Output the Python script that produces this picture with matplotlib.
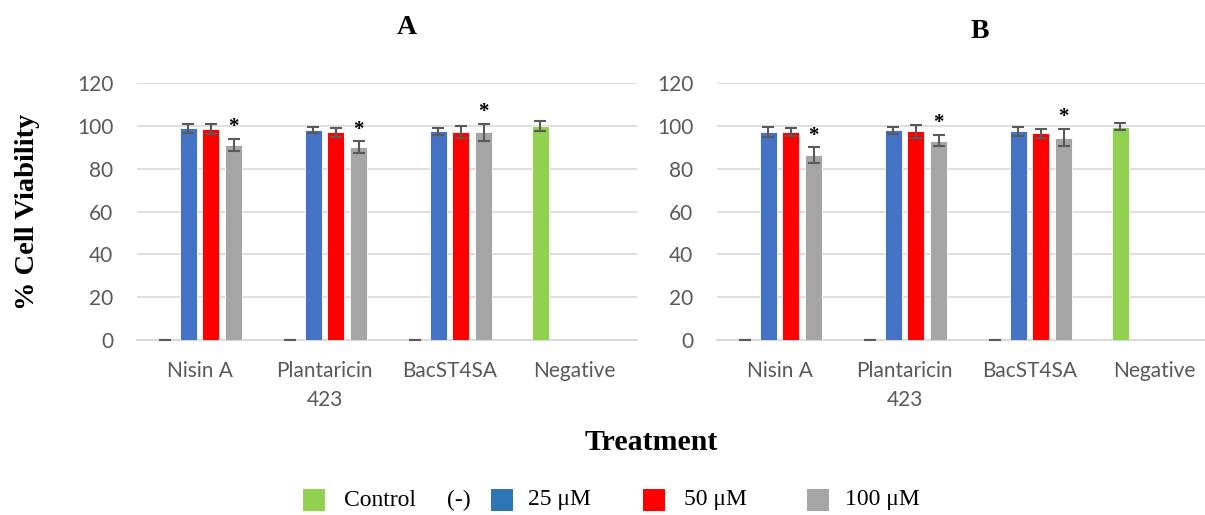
# Cell viability after bacteriocin treatment, panels A and B
import numpy as np
import matplotlib.pyplot as plt
from matplotlib.patches import Rectangle

# Data
groups = ["Nisin A", "Plantaricin\n423", "BacST4SA", "Negative"]
series = ["Control (-)", "25 \u03bcM", "50 \u03bcM", "100 \u03bcM"]
bar_colors = ["#92D050", "#4472C4", "#FF0000", "#A5A5A5"]

# panel A: mean and error, one row per series, one column per group
a_mean = [
    [0, 0, 0, 100.0],        # control (-)
    [99.0, 98.2, 97.6, 0],   # 25 uM
    [98.6, 97.1, 97.1, 0],   # 50 uM
    [91.2, 90.1, 97.1, 0],   # 100 uM
]
a_err = [
    [0, 0, 0, 2.3],
    [2.2, 1.6, 1.6, 0],
    [2.2, 2.1, 2.9, 0],
    [2.7, 2.8, 3.9, 0],
]
# panel B
b_mean = [
    [0, 0, 0, 99.8],
    [97.1, 98.0, 97.6, 0],
    [97.3, 97.6, 96.6, 0],
    [86.3, 93.2, 94.6, 0],
]
b_err = [
    [0, 0, 0, 1.6],
    [2.3, 1.7, 2.2, 0],
    [1.9, 3.0, 2.0, 0],
    [3.7, 2.6, 4.0, 0],
]
# groups with a significant 100 uM result
signif = [0, 1, 2]

# Legend
leg_labels = ["Control", "(-)", "25 \u03bcM", "50 \u03bcM", "100 \u03bcM"]
leg_colors = ["#92D050", None, "#2E75B6", "#FF0000", "#A5A5A5"]

W, H = 1205, 515
fig = plt.figure(figsize=(W / 100, H / 100), dpi=100)

grid_col = "#D9D9D9"
tick_col = "#595959"
slot = 0.1816
bar_w = 0.136


def draw_panel(ax, mean, err):
    x = np.arange(len(groups))
    for i in range(len(series)):
        xs = x + (i - 1.5) * slot
        m = np.array(mean[i], dtype=float)
        e = np.array(err[i], dtype=float)
        # control series keeps its cap at 0, others only where there is a bar
        keep = np.ones(len(m), bool) if i == 0 else (m > 0)
        ax.bar(xs[m > 0], m[m > 0], width=bar_w, color=bar_colors[i],
               edgecolor="white", linewidth=0.6, zorder=3)
        ax.errorbar(xs[keep], m[keep], yerr=e[keep], fmt="none",
                    ecolor=tick_col, elinewidth=1.5, capsize=4.5,
                    capthick=1.5, zorder=4)
    # asterisks over the 100 uM bars
    for g in signif:
        ax.text(x[g] + 1.5 * slot, mean[3][g] + err[3][g] + 5.5, "*",
                ha="center", va="center", fontsize=15,
                family="Liberation Serif", fontweight="bold", color="black")
    ax.set_xlim(-0.5, len(groups) - 0.5)
    ax.set_ylim(0, 120)
    ax.set_yticks(range(0, 121, 20))
    ax.set_xticks(x)
    ax.set_xticklabels(groups, family="Lato", fontsize=15, color=tick_col,
                       linespacing=1.6)
    ax.tick_params(axis="y", length=0, pad=17, labelsize=15,
                   labelcolor=tick_col)
    ax.tick_params(axis="x", length=0, pad=15)
    for lab in ax.get_yticklabels():
        lab.set_family("Lato")
    ax.grid(axis="y", color=grid_col, linewidth=1.2, zorder=0)
    ax.set_axisbelow(True)
    for s in ["top", "right", "left"]:
        ax.spines[s].set_visible(False)
    ax.spines["bottom"].set_color(grid_col)
    ax.spines["bottom"].set_linewidth(1.5)


ax_a = fig.add_axes([137 / W, 175 / H, 500 / W, 256.7 / H])
draw_panel(ax_a, a_mean, a_err)
ax_b = fig.add_axes([717 / W, 175 / H, 500 / W, 256.7 / H])
draw_panel(ax_b, b_mean, b_err)

# Titles and axis labels
fig.text(407 / W, 1 - 27 / H, "A", ha="center", va="center", fontsize=20,
         family="Liberation Serif", fontweight="bold")
fig.text(980 / W, 1 - 32 / H, "B", ha="center", va="center", fontsize=20,
         family="Liberation Serif", fontweight="bold")
fig.text(28 / W, 1 - 212 / H, "% Cell Viability", rotation=90, ha="center",
         va="center", fontsize=20.5, family="Liberation Serif",
         fontweight="bold")
fig.text(651 / W, 1 - 442 / H, "Treatment", ha="center", va="center",
         fontsize=21.5, family="Liberation Serif", fontweight="bold")

# Legend, placed by hand
sq_x = [303, None, 491, 643, 807]
txt_x = [344, 447, 528, 684, 845]
leg_y = 500
for sx, tx, lab, col in zip(sq_x, txt_x, leg_labels, leg_colors):
    if col is not None:
        fig.add_artist(Rectangle((sx / W, (H - leg_y - 11) / H), 22 / W, 22 / H,
                                 transform=fig.transFigure, color=col,
                                 lw=0))
    fig.text(tx / W, 1 - leg_y / H, lab, ha="left", va="center", fontsize=17,
             family="Liberation Serif")

fig.savefig("out.png", dpi=100)
